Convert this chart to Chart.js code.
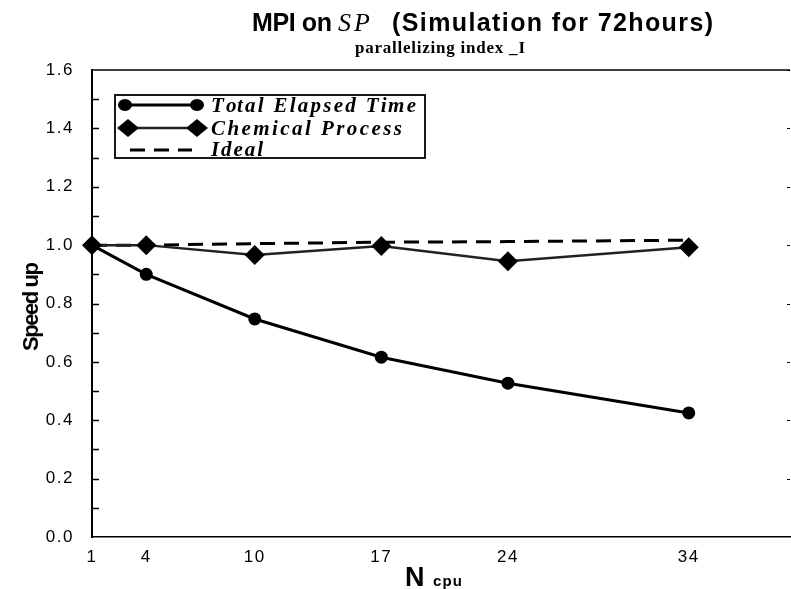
<!DOCTYPE html>
<html>
<head>
<meta charset="utf-8">
<script src="https://cdn.jsdelivr.net/npm/chart.js@4/dist/chart.umd.min.js"></script>
<style>
  html, body { margin: 0; padding: 0; background: #fff; }
  #wrap { width: 791px; height: 589px; position: relative; }
</style>
</head>
<body>
<div id="wrap"><canvas id="c" width="791" height="589"></canvas></div>
<script>
// ---- data ----
const categories = [1, 4, 10, 17, 24, 34];              // N cpu
const totalElapsed = [1.0, 0.90, 0.747, 0.616, 0.527, 0.425];
const chemicalProcess = [1.0, 1.0, 0.966, 0.997, 0.945, 0.993];
const ideal = [1.0, 1.0, 1.005, 1.01, 1.012, 1.017];
const xTickLabels = ['1', '4', '10', '17', '24', '34'];
const yTickLabels = ['0.0', '0.2', '0.4', '0.6', '0.8', '1.0', '1.2', '1.4', '1.6'];
const seriesNames = ['Total Elapsed Time', 'Chemical Process', 'Ideal'];

const pts = arr => categories.map((x, i) => ({ x: x, y: arr[i] }));

function drawSpaced(ctx, text, x, y, target) {
  const w = ctx.measureText(text).width;
  const n = text.length;
  const ls = (target && n > 1) ? (target - w) / (n - 1) : 0;
  ctx.textAlign = 'left';
  for (let i = 0; i < n; i++) {
    const px = x + ctx.measureText(text.slice(0, i)).width + i * ls;
    ctx.fillText(text[i], px, y);
  }
}

const tickSpacing = {
  id: 'tickSpacing',
  beforeDraw(chart) { if ('letterSpacing' in chart.ctx) chart.ctx.letterSpacing = '1.5px'; },
  beforeDatasetsDraw(chart) { if ('letterSpacing' in chart.ctx) chart.ctx.letterSpacing = '0px'; }
};

const decor = {
  id: 'decor',
  afterDraw(chart) {
    const ctx = chart.ctx;
    const ca = chart.chartArea;
    const ys = chart.scales.y;
    ctx.save();
    if ('letterSpacing' in ctx) ctx.letterSpacing = '0px';
    ctx.fillStyle = '#000';
    ctx.strokeStyle = '#000';
    ctx.textBaseline = 'alphabetic';

    // top frame line
    ctx.lineWidth = 1.5;
    ctx.beginPath();
    ctx.moveTo(ca.left, ca.top); ctx.lineTo(ca.right, ca.top);
    ctx.stroke();

    // inward minor ticks on y axis every 0.1
    ctx.lineWidth = 1.5;
    for (let v = 0.1; v < 1.6; v += 0.1) {
      const py = Math.round(ys.getPixelForValue(v)) + 0.5;
      ctx.beginPath();
      ctx.moveTo(ca.left, py); ctx.lineTo(ca.left + 7, py);
      ctx.stroke();
    }
    // faint right-side ticks
    ctx.lineWidth = 1;
    for (let v = 0.2; v < 1.6; v += 0.2) {
      const py = Math.round(ys.getPixelForValue(v)) + 0.5;
      ctx.beginPath();
      ctx.moveTo(ca.right - 3, py); ctx.lineTo(ca.right, py);
      ctx.stroke();
    }

    // Title
    ctx.font = 'bold 25px "Liberation Sans", Arial, sans-serif';
    drawSpaced(ctx, 'MPI on', 252, 31, 80);
    ctx.font = 'italic 26px "Liberation Serif", "Times New Roman", serif';
    drawSpaced(ctx, 'SP', 338, 31, 32);
    ctx.font = 'bold 25px "Liberation Sans", Arial, sans-serif';
    drawSpaced(ctx, '(Simulation for 72hours)', 392, 31, 321);
    // Subtitle
    ctx.font = 'bold 17px "Liberation Serif", "Times New Roman", serif';
    drawSpaced(ctx, 'parallelizing index _I', 355, 53, 170);

    // Y axis title
    ctx.save();
    ctx.translate(38, 351);
    ctx.rotate(-Math.PI / 2);
    ctx.font = 'bold 22px "Liberation Sans", Arial, sans-serif';
    drawSpaced(ctx, 'Speed up', 0, 0, 89);
    ctx.restore();

    // X axis title
    ctx.font = 'bold 27px "Liberation Sans", Arial, sans-serif';
    ctx.fillText('N', 405, 586);
    ctx.font = 'bold 15px "Liberation Sans", Arial, sans-serif';
    drawSpaced(ctx, 'cpu', 433, 586, 29);

    // Legend
    const lx = 115, ly = 95, lw = 310, lh = 63;
    ctx.fillStyle = '#fff';
    ctx.fillRect(lx, ly, lw, lh);
    ctx.lineWidth = 1.8;
    ctx.strokeStyle = '#000';
    ctx.strokeRect(lx, ly, lw, lh);
    ctx.fillStyle = '#000';
    const rows = [105, 128, 150];
    const ds = chart.data.datasets;
    // row 1: line + circles
    ctx.lineWidth = ds[0].borderWidth;
    ctx.beginPath(); ctx.moveTo(125, rows[0]); ctx.lineTo(197, rows[0]); ctx.stroke();
    [125, 197].forEach(cx => { ctx.beginPath(); ctx.ellipse(cx, rows[0], 7, 6, 0, 0, Math.PI * 2); ctx.fill(); });
    // row 2: line + diamonds
    ctx.lineWidth = ds[1].borderWidth;
    ctx.strokeStyle = ds[1].borderColor;
    ctx.beginPath(); ctx.moveTo(128, rows[1]); ctx.lineTo(197, rows[1]); ctx.stroke();
    ctx.strokeStyle = '#000';
    [128, 197].forEach(cx => {
      ctx.beginPath();
      ctx.moveTo(cx - 11, rows[1]); ctx.lineTo(cx, rows[1] - 9);
      ctx.lineTo(cx + 11, rows[1]); ctx.lineTo(cx, rows[1] + 9);
      ctx.closePath(); ctx.fill();
    });
    // row 3: dashed
    ctx.lineWidth = ds[2].borderWidth;
    ctx.setLineDash(ds[2].borderDash);
    ctx.beginPath(); ctx.moveTo(130, rows[2]); ctx.lineTo(192, rows[2]); ctx.stroke();
    ctx.setLineDash([]);
    // texts
    ctx.font = 'bold italic 21px "Liberation Serif", "Times New Roman", serif';
    drawSpaced(ctx, seriesNames[0], 211, 112, 205);
    drawSpaced(ctx, seriesNames[1], 211, 135, 191);
    drawSpaced(ctx, seriesNames[2], 211, 156, 52);

    ctx.restore();
  }
};

new Chart(document.getElementById('c'), {
  type: 'line',
  data: {
    datasets: [
      {
        label: seriesNames[0],
        data: pts(totalElapsed),
        borderColor: '#000',
        backgroundColor: '#000',
        borderWidth: 3,
        pointStyle: 'circle',
        pointRadius: 6.5,
        pointBorderWidth: 0,
        pointBackgroundColor: '#000',
        tension: 0,
        clip: false
      },
      {
        label: seriesNames[1],
        data: pts(chemicalProcess),
        borderColor: '#222',
        backgroundColor: '#000',
        borderWidth: 2.5,
        pointStyle: 'rectRot',
        pointRadius: 10,
        pointBorderWidth: 0,
        pointBackgroundColor: '#000',
        tension: 0,
        clip: false
      },
      {
        label: seriesNames[2],
        data: pts(ideal),
        borderColor: '#000',
        borderWidth: 3,
        borderDash: [15, 9],
        pointRadius: 0,
        tension: 0,
        clip: false
      }
    ]
  },
  options: {
    responsive: false,
    animation: false,
    devicePixelRatio: 1,
    layout: { autoPadding: false, padding: { top: 70, right: 1, left: 0, bottom: 0 } },
    plugins: {
      legend: { display: false },
      title: { display: false },
      tooltip: { enabled: false }
    },
    scales: {
      x: {
        type: 'linear',
        min: 1,
        max: 39.6,
        afterFit: s => { s.height = 52; s.paddingRight = 0; s.paddingLeft = 0; },
        afterBuildTicks: s => { s.ticks = categories.map(v => ({ value: v })); },
        grid: { display: true, drawOnChartArea: false, drawTicks: true, tickLength: 10, tickColor: 'rgba(0,0,0,0)' },
        border: { display: true, color: '#000', width: 1.5 },
        ticks: {
          padding: 0,
          color: '#000',
          maxRotation: 0,
          autoSkip: false,
          font: { family: '"Liberation Sans", Arial, sans-serif', size: 17 },
          callback: (v) => { const i = categories.indexOf(v); return i >= 0 ? xTickLabels[i] : ''; }
        }
      },
      y: {
        min: 0,
        max: 1.6,
        afterFit: s => { s.width = 92; },
        afterBuildTicks: s => { s.ticks = yTickLabels.map(t => ({ value: parseFloat(t) })); },
        grid: { display: false, drawTicks: false },
        border: { display: true, color: '#000', width: 2 },
        ticks: {
          padding: 18,
          color: '#000',
          autoSkip: false,
          font: { family: '"Liberation Sans", Arial, sans-serif', size: 17 },
          callback: (v) => { const i = yTickLabels.findIndex(t => Math.abs(parseFloat(t) - v) < 1e-6); return i >= 0 ? yTickLabels[i] : ''; }
        }
      }
    }
  },
  plugins: [tickSpacing, decor]
});
</script>
</body>
</html>
